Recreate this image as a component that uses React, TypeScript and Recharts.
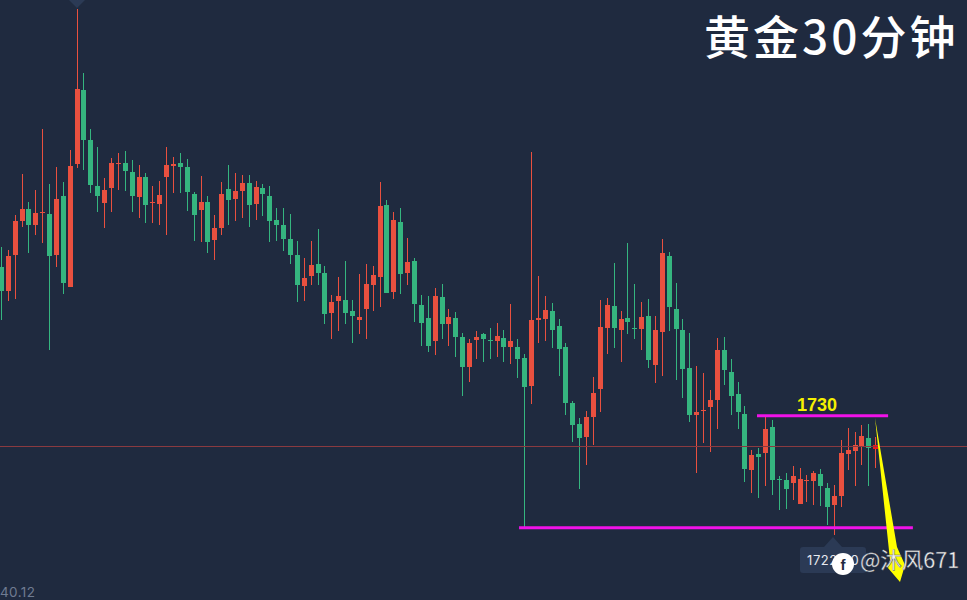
import { Bar, ComposedChart, ReferenceLine, XAxis, YAxis } from 'recharts';

const opens = [
  1738.88, 1737.44, 1739.6, 1741.64, 1742.36, 1741.4, 1742.12, 1742.06, 1739.6, 1743.14,
  1737.68, 1745.06, 1749.5, 1746.5, 1743.74, 1742.72, 1743.62, 1745.06, 1745.12, 1744.58,
  1743.08, 1744.28, 1742.72, 1742.66, 1744.28, 1744.94, 1745.12, 1744.88, 1743.26, 1742.3,
  1742.78, 1740.5, 1741.22, 1743.56, 1742.96, 1743.44, 1743.92, 1742.66, 1743.62, 1743.14,
  1741.7, 1741.4, 1740.56, 1739.6, 1737.74, 1738.34, 1739.06, 1738.52, 1736.12, 1736.84,
  1736.9, 1736.24, 1735.7, 1736.36, 1737.8, 1738.28, 1742.6, 1737.38, 1741.58, 1738.52,
  1739.24, 1736.6, 1735.82, 1734.44, 1737.08, 1735.46, 1735.82, 1734.68, 1732.88, 1734.5,
  1734.86, 1734.5, 1734.44, 1734.62, 1734.08, 1734.08, 1733.42, 1731.74, 1735.7, 1735.76,
  1736.24, 1735.34, 1734.08, 1730.72, 1729.46, 1728.68, 1729.88, 1731.56, 1735.22, 1736.54,
  1735.1, 1735.82, 1735.22, 1735.16, 1735.94, 1733.0, 1734.98, 1739.54, 1736.36, 1735.1,
  1732.82, 1730.0, 1730.24, 1730.48, 1730.9, 1733.9, 1732.58, 1731.26, 1730.06, 1726.7,
  1727.66, 1727.72, 1729.28, 1726.16, 1726.1, 1725.92, 1724.66, 1726.04, 1726.04, 1726.46,
  1725.62, 1724.6, 1725.14, 1727.66, 1727.84, 1728.08, 1728.62, 1727.96,
];
const closes = [
  1737.44, 1739.54, 1741.64, 1742.36, 1741.4, 1742.12, 1742.18, 1739.54, 1742.96, 1737.92,
  1744.94, 1749.56, 1746.5, 1743.8, 1743.14, 1743.5, 1745.12, 1745.12, 1744.64, 1743.14,
  1744.28, 1742.6, 1742.78, 1743.2, 1745.0, 1745.06, 1744.88, 1743.38, 1742.0, 1742.78,
  1740.38, 1741.22, 1743.26, 1742.9, 1743.44, 1743.92, 1742.6, 1743.68, 1743.26, 1741.64,
  1741.4, 1740.56, 1739.6, 1737.8, 1738.22, 1739.0, 1738.52, 1736.06, 1736.78, 1737.14,
  1736.12, 1735.94, 1735.88, 1737.86, 1738.4, 1742.54, 1737.32, 1741.7, 1738.46, 1739.18,
  1736.66, 1735.52, 1734.14, 1737.14, 1735.46, 1735.88, 1734.68, 1732.88, 1734.32, 1734.68,
  1734.56, 1734.44, 1734.74, 1734.08, 1734.44, 1733.36, 1731.68, 1735.7, 1735.82, 1736.3,
  1735.1, 1733.96, 1730.72, 1729.4, 1728.62, 1729.88, 1731.32, 1735.28, 1736.6, 1735.22,
  1735.76, 1735.58, 1735.16, 1735.88, 1733.3, 1735.1, 1739.72, 1736.48, 1735.16, 1732.76,
  1730.0, 1730.18, 1730.3, 1730.9, 1733.9, 1732.7, 1731.14, 1730.18, 1726.76, 1727.6,
  1727.48, 1729.16, 1726.1, 1726.1, 1725.56, 1726.34, 1726.16, 1726.1, 1726.52, 1725.74,
  1724.48, 1725.14, 1727.72, 1727.9, 1728.2, 1728.74, 1728.02, 1728.2,
];
const highs = [
  1740.08, 1739.9, 1742.0, 1744.46, 1742.78, 1743.5, 1747.16, 1743.86, 1744.88, 1743.98,
  1745.9, 1754.36, 1750.52, 1747.16, 1746.08, 1744.22, 1745.42, 1745.72, 1745.84, 1745.3,
  1745.0, 1744.52, 1743.74, 1744.04, 1746.08, 1745.48, 1745.72, 1745.36, 1743.38, 1744.34,
  1743.14, 1742.0, 1743.98, 1745.0, 1744.52, 1744.4, 1744.4, 1744.04, 1743.86, 1743.74,
  1742.42, 1742.42, 1742.06, 1740.44, 1739.42, 1740.44, 1741.16, 1738.94, 1737.2, 1738.28,
  1739.24, 1736.9, 1738.46, 1739.06, 1738.94, 1743.98, 1742.9, 1742.18, 1742.42, 1740.62,
  1739.42, 1737.2, 1737.14, 1737.62, 1737.86, 1736.36, 1736.18, 1734.92, 1734.56, 1735.04,
  1734.92, 1735.22, 1735.52, 1735.1, 1736.66, 1734.56, 1733.66, 1745.78, 1738.34, 1737.14,
  1736.72, 1735.76, 1734.32, 1730.84, 1729.82, 1730.24, 1732.28, 1736.9, 1737.02, 1739.12,
  1736.24, 1740.32, 1737.86, 1736.78, 1736.96, 1735.94, 1740.56, 1739.78, 1737.92, 1735.76,
  1734.92, 1732.94, 1732.52, 1731.5, 1734.62, 1734.68, 1733.36, 1731.98, 1730.54, 1727.9,
  1728.02, 1729.88, 1729.7, 1726.34, 1726.52, 1726.94, 1726.82, 1726.4, 1726.64, 1726.76,
  1725.92, 1725.8, 1728.5, 1729.22, 1728.98, 1729.4, 1729.46, 1728.68,
];
const lows = [
  1735.7, 1736.84, 1736.96, 1741.28, 1739.72, 1740.8, 1740.32, 1733.9, 1738.88, 1737.26,
  1737.68, 1744.82, 1744.7, 1743.32, 1742.18, 1741.22, 1742.18, 1743.5, 1743.44, 1742.18,
  1741.82, 1741.52, 1741.52, 1741.4, 1740.8, 1743.32, 1743.32, 1742.24, 1740.44, 1740.38,
  1739.72, 1739.3, 1740.8, 1741.4, 1741.64, 1741.82, 1741.28, 1741.7, 1741.94, 1740.38,
  1740.44, 1739.84, 1739.06, 1736.78, 1736.84, 1737.8, 1737.8, 1735.46, 1734.56, 1735.04,
  1735.46, 1734.32, 1734.86, 1734.56, 1736.24, 1736.48, 1737.32, 1736.96, 1737.26, 1737.8,
  1735.58, 1734.14, 1733.78, 1733.6, 1734.56, 1734.14, 1733.48, 1731.14, 1731.98, 1733.36,
  1733.18, 1733.36, 1733.48, 1733.18, 1733.06, 1732.22, 1723.28, 1730.66, 1734.32, 1734.44,
  1734.02, 1732.34, 1730.0, 1728.38, 1725.56, 1727.0, 1728.2, 1730.18, 1733.66, 1734.02,
  1733.18, 1734.86, 1734.56, 1733.9, 1732.82, 1731.92, 1732.34, 1735.04, 1732.1, 1731.02,
  1729.58, 1726.52, 1728.32, 1727.78, 1729.16, 1731.8, 1730.0, 1729.16, 1725.98, 1725.32,
  1725.02, 1725.74, 1725.2, 1724.3, 1724.36, 1724.9, 1724.66, 1724.78, 1724.6, 1724.54,
  1723.4, 1722.8, 1724.48, 1726.7, 1725.74, 1727.0, 1725.74, 1726.82,
];

const lastPrice = 1728.11;
const resistance = 1729.96;
const support = 1723.24;
const resistanceSpan = [109.76, 128.8];
const supportSpan = [75.2, 132.4];

const candles = opens.map((open, idx) => ({
  idx,
  open,
  close: closes[idx],
  high: highs[idx],
  low: lows[idx],
}));

const BG = '#1f2a3f';
const UP = '#e9503f';
const DOWN = '#35b57f';

// wick plus body, body is scaled from the high/low bar that recharts hands us
// everything is snapped to whole pixels so the 1px wicks stay crisp
const Candle = (props: any) => {
  const { x, y, width, height, payload } = props;
  const { idx, open, close, high, low } = payload;
  const color = idx === candles.length - 1 ? '#f01818' : close >= open ? UP : DOWN;
  const perUnit = height / (high - low);
  const top = Math.round(y + (high - Math.max(open, close)) * perUnit);
  const bottom = Math.round(y + (high - Math.min(open, close)) * perUnit);
  const wickX = Math.floor(x + width / 2);
  const wickTop = Math.round(y);
  return (
    <g>
      <rect x={wickX} y={wickTop} width={1} height={Math.round(y + height) - wickTop} fill={close >= open ? UP : DOWN} />
      <rect x={wickX - 2} y={top} width={5} height={Math.max(bottom - top, 1)} fill={color} />
    </g>
  );
};

const App = () => (
  <div style={{ position: 'fixed', left: 0, top: 0, width: 967, height: 600, background: BG, overflow: 'hidden' }}>
    <ComposedChart width={967} height={600} data={candles} margin={{ top: 0, right: 0, bottom: 0, left: 0 }}>
      <XAxis dataKey="idx" type="number" domain={[-0.189, 140.26]} hide allowDataOverflow />
      <YAxis type="number" domain={[1718.9, 1754.9]} hide allowDataOverflow />
      <ReferenceLine y={lastPrice} stroke="#8a3a40" strokeWidth={1} />
      <Bar dataKey={(d: any) => [d.low, d.high]} barSize={5} shape={<Candle />} isAnimationActive={false} />
      <ReferenceLine
        segment={[{ x: resistanceSpan[0], y: resistance }, { x: resistanceSpan[1], y: resistance }]}
        stroke="#f012e8"
        strokeWidth={3}
      />
      <ReferenceLine
        segment={[{ x: supportSpan[0], y: support }, { x: supportSpan[1], y: support }]}
        stroke="#f012e8"
        strokeWidth={3}
      />
    </ComposedChart>
    <svg width={967} height={600} style={{ position: 'absolute', left: 0, top: 0 }}>
      <polygon points="69,0 85,0 77,8" fill="#2b3a55" />
      <polygon points="833,537 824,547 842,547" fill="#2b3a55" />
      <rect x={800} y={547} width={66} height={26} rx={3} fill="#2b3a55" />
      <text x={807} y={565} fill="#e6e9ef" fontSize={13} letterSpacing={0.6} fontFamily="Inter, Roboto, sans-serif">
        1722.50
      </text>
      <polygon points="875,418 897,547 905,565 900,582 888,568 890,560" fill="#ffff00" />
      <circle cx={843} cy={564} r={11} fill="#ffffff" />
      <text x={843} y={570} textAnchor="middle" fontSize={15} fontWeight={700} fill={BG} fontFamily="Liberation Sans, sans-serif">
        f
      </text>
      <text
        x={860}
        y={568}
        fontSize={21.5}
        fill="#f2f2f2"
        stroke="#4a5160"
        strokeWidth={0.4}
        fontFamily="'Noto Sans CJK SC', sans-serif"
      >
        @沐风671
      </text>
      <text x={817} y={411} textAnchor="middle" fontSize={18} fontWeight={700} fill="#f5f000" fontFamily="Liberation Sans, sans-serif">
        1730
      </text>
      <text x={704} y={54} fontSize={46} fontWeight={500} fill="#ffffff" letterSpacing={3} fontFamily="'Noto Sans CJK SC', sans-serif">
        黄金30分钟
      </text>
      <text x={0} y={597} fontSize={13.5} fill="#6f7b91" letterSpacing={0.4} fontFamily="Inter, Roboto, sans-serif">
        40.12
      </text>
    </svg>
  </div>
);

export default App;
